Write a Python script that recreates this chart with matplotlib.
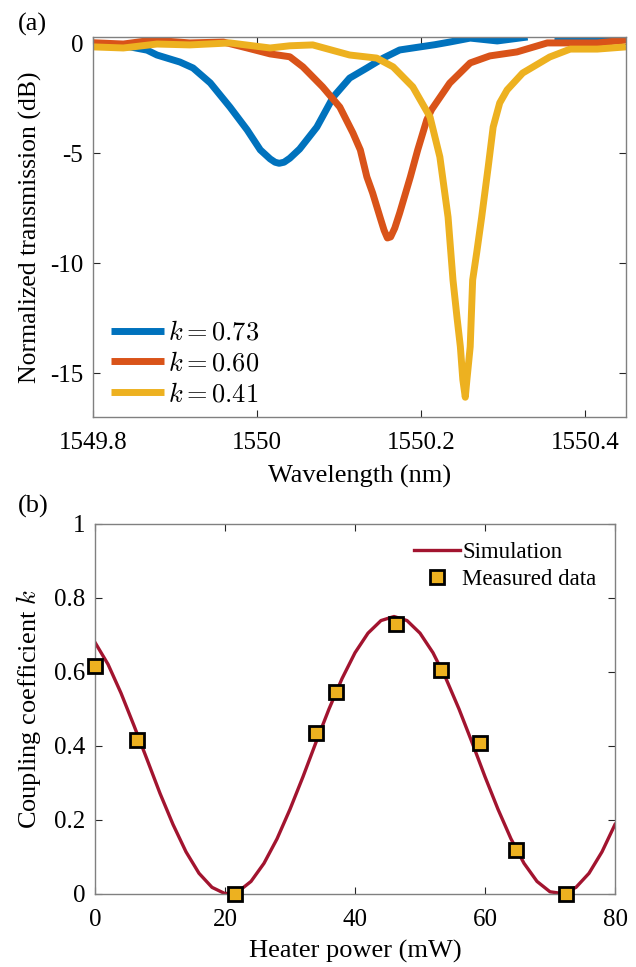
import matplotlib
matplotlib.use("Agg")
import matplotlib.pyplot as plt
import numpy as np

plt.rcParams['font.family'] = ['Liberation Serif', 'DejaVu Serif']
plt.rcParams['mathtext.fontset'] = 'cm'
plt.rcParams['xtick.direction'] = 'in'
plt.rcParams['ytick.direction'] = 'in'

# ---- panel (a): transmission spectra ----
wl_blue = [1549.800, 1549.821, 1549.845, 1549.866, 1549.878, 1549.906, 1549.922, 1549.943,
           1549.967, 1549.988, 1550.004, 1550.016, 1550.022, 1550.027, 1550.033, 1550.040,
           1550.052, 1550.073, 1550.093, 1550.113, 1550.134, 1550.154, 1550.174, 1550.199,
           1550.217, 1550.235, 1550.260, 1550.293, 1550.330, 1550.345, 1550.363, 1550.394,
           1550.422, 1550.450]
tr_blue = [-0.10, -0.12, -0.15, -0.30, -0.52, -0.84, -1.11, -1.79,
           -2.89, -3.93, -4.84, -5.25, -5.40, -5.45, -5.40, -5.22,
           -4.80, -3.80, -2.43, -1.57, -1.11, -0.66, -0.29, -0.15,
           -0.05, 0.07, 0.25, 0.12, 0.30, np.nan, 0.30, 0.20,
           0.28, 0.25]

wl_orange = [1549.800, 1549.837, 1549.873, 1549.918, 1549.959, 1549.988, 1550.016, 1550.040,
             1550.056, 1550.080, 1550.101, 1550.117, 1550.126, 1550.134, 1550.141, 1550.150,
             1550.155, 1550.159, 1550.163, 1550.168, 1550.174, 1550.187, 1550.196, 1550.207,
             1550.213, 1550.235, 1550.260, 1550.284, 1550.317, 1550.354, 1550.385, 1550.415,
             1550.450]
tr_orange = [0.04, -0.02, 0.16, 0.03, 0.07, -0.20, -0.47, -0.60,
             -1.06, -1.97, -2.89, -4.07, -4.84, -6.07, -6.80, -7.90,
             -8.50, -8.85, -8.80, -8.40, -7.71, -6.07, -4.84, -3.48,
             -3.00, -1.80, -0.88, -0.56, -0.38, 0.03, 0.03, 0.03,
             0.16]

wl_yellow = [1549.800, 1549.837, 1549.878, 1549.918, 1549.967, 1550.016, 1550.040, 1550.068,
             1550.113, 1550.146, 1550.166, 1550.190, 1550.211, 1550.223, 1550.233, 1550.239,
             1550.244, 1550.248, 1550.251, 1550.254, 1550.256, 1550.260, 1550.263, 1550.268,
             1550.274, 1550.282, 1550.288, 1550.296, 1550.305, 1550.324, 1550.357, 1550.382,
             1550.415, 1550.450]
tr_yellow = [-0.15, -0.20, -0.02, -0.06, 0.03, -0.20, -0.10, -0.06,
             -0.52, -0.66, -1.06, -1.97, -3.34, -5.16, -7.90, -10.76,
             -12.50, -13.80, -15.30, -16.10, -15.30, -13.80, -10.76, -9.50,
             -7.90, -5.60, -3.80, -2.70, -2.11, -1.34, -0.61, -0.25,
             -0.25, -0.15]

labels_a = [r'$k=0.73$', r'$k=0.60$', r'$k=0.41$']
colors_a = ['#0072BD', '#D95319', '#EDB120']

# ---- panel (b): coupling coefficient vs heater power ----
p_sim = list(range(0, 82, 2))
k_sim = [0.680, 0.621, 0.543, 0.455, 0.364, 0.272, 0.188, 0.114, 0.056, 0.018,
         0.001, 0.006, 0.034, 0.083, 0.149, 0.229, 0.317, 0.410, 0.500, 0.582,
         0.652, 0.705, 0.739, 0.750, 0.739, 0.705, 0.652, 0.582, 0.500, 0.410,
         0.317, 0.229, 0.149, 0.083, 0.034, 0.006, 0.001, 0.018, 0.056, 0.114,
         0.188]
p_meas = [0, 6.5, 21.5, 34, 37, 46.3, 53.3, 59.3, 64.8, 72.5]
k_meas = [0.615, 0.415, 0.0, 0.435, 0.545, 0.73, 0.605, 0.408, 0.12, 0.0]

fig = plt.figure(figsize=(6.36, 9.67), dpi=100)
ax1 = fig.add_axes([93/636, 1-417/967, 533/636, 380/967])
ax2 = fig.add_axes([95/636, 1-894/967, 520/636, 370/967])

for w, t, c, lab in zip([wl_blue, wl_orange, wl_yellow], [tr_blue, tr_orange, tr_yellow], colors_a, labels_a):
    ax1.plot(w, t, color=c, lw=5, label=lab, solid_joinstyle='round', solid_capstyle='butt')

ax1.set_xlim(1549.8, 1550.45)
ax1.set_ylim(-17, 0.3)
ax1.set_xticks([1549.8, 1550, 1550.2, 1550.4])
ax1.set_xticklabels(['1549.8', '1550', '1550.2', '1550.4'])
ax1.set_yticks([0, -5, -10, -15])
ax1.set_yticklabels(['0', '-5', '-10', '-15'])
ax1.set_xlabel('Wavelength (nm)', fontsize=19, labelpad=8)
ax1.set_ylabel('Normalized transmission (dB)', fontsize=18.5, labelpad=6)
ax1.legend(loc='lower left', frameon=False, fontsize=19, handlelength=2.0,
           handletextpad=0.15, labelspacing=0.25, borderaxespad=0.3,
           bbox_to_anchor=(0.0, -0.02))

ax2.plot(p_sim, k_sim, color='#A2142F', lw=2.4, label='Simulation', solid_joinstyle='round')
ax2.plot(p_meas, k_meas, ls='none', marker='s', ms=9.5, mfc='#EDB120', mec='black',
         mew=2, label='Measured data', clip_on=False, zorder=5)
ax2.set_xlim(0, 80)
ax2.set_ylim(0, 1)
ax2.set_xticks([0, 20, 40, 60, 80])
ax2.set_yticks([0, 0.2, 0.4, 0.6, 0.8, 1])
ax2.set_yticklabels(['0', '0.2', '0.4', '0.6', '0.8', '1'])
ax2.set_xlabel('Heater power (mW)', fontsize=19, labelpad=6)
ax2.set_ylabel(r'Coupling coefficient $k$', fontsize=19, labelpad=8)
ax2.legend(loc='upper right', frameon=False, fontsize=16.5, handlelength=2.0,
           handletextpad=0.1, labelspacing=0.25, borderaxespad=0.4)

for ax in (ax1, ax2):
    ax.tick_params(labelsize=18, top=True, right=True, length=5, width=0.8,
                   color='#262626', pad=7)
    ax.tick_params(axis='x', pad=11)
    for s in ax.spines.values():
        s.set_color('#808080')
        s.set_linewidth(1.0)

fig.text(18/636, 1-24/967, '(a)', fontsize=19, va='center', ha='left')
fig.text(18/636, 1-506/967, '(b)', fontsize=19, va='center', ha='left')

fig.savefig('out.png', dpi=100)
